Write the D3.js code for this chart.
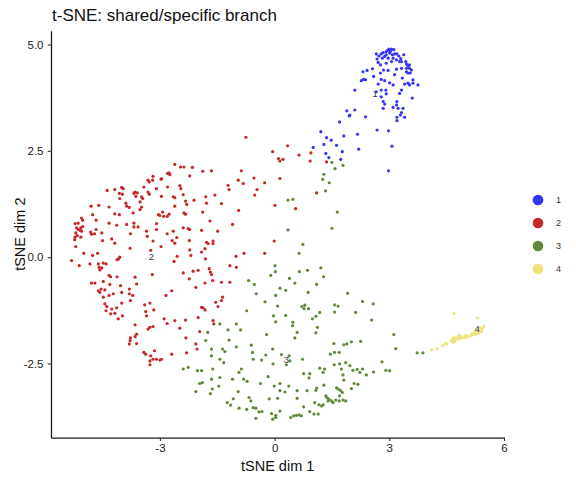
<!DOCTYPE html>
<html>
<head>
<meta charset="utf-8">
<script src="https://cdn.jsdelivr.net/npm/d3@7"></script>
<style>
  body { margin: 0; background: #fff; }
  svg text { font-family: "Liberation Sans", Arial, Helvetica, sans-serif; }
</style>
</head>
<body>
<div id="chart"></div>
<script>
// cluster names + colours (legend order)
let clusterNames = ["1", "2", "3", "4"];
let clusterColors = ["#3535F6", "#C52828", "#5F8A3C", "#EEE27A"];

// t-SNE coordinates, one array per cluster
let cluster1 = [[2.66,4.78],[2.73,4.73],[2.79,4.78],[2.84,4.81],[2.92,4.83],[2.99,4.89],[3.06,4.89],[3.12,4.88],[3.01,4.80],[2.92,4.76],[3.08,4.76],[3.14,4.78],[3.20,4.78],[3.25,4.73],[3.38,4.76],[2.68,4.66],[2.82,4.68],[2.97,4.68],[3.10,4.68],[3.19,4.64],[3.27,4.60],[3.32,4.60],[2.71,4.58],[2.77,4.52],[2.92,4.56],[3.06,4.60],[3.43,4.60],[3.45,4.54],[3.49,4.50],[3.53,4.52],[3.45,4.44],[3.53,4.44],[3.58,4.40],[3.45,4.36],[3.49,4.33],[3.55,4.33],[2.56,4.43],[2.42,4.39],[2.31,4.36],[2.85,4.40],[2.97,4.39],[3.19,4.42],[3.32,4.44],[2.77,4.33],[3.14,4.29],[2.59,4.25],[2.33,4.18],[2.27,4.15],[2.38,4.17],[2.79,4.18],[2.88,4.15],[3.01,4.10],[2.71,4.07],[3.10,4.05],[3.34,4.21],[3.40,4.07],[3.49,4.09],[3.62,4.09],[3.75,4.05],[3.62,4.17],[3.53,4.05],[2.10,3.93],[2.66,3.89],[2.79,3.93],[2.91,3.93],[2.92,3.84],[2.79,3.77],[3.32,3.93],[3.27,3.85],[2.84,3.66],[2.88,3.60],[3.20,3.66],[3.19,3.58],[3.60,3.74],[2.84,3.50],[3.10,3.52],[3.23,3.50],[3.36,3.50],[1.89,3.44],[2.10,3.46],[1.97,3.34],[3.32,3.40],[3.29,3.34],[1.95,3.32],[2.38,3.30],[3.40,3.29],[3.20,3.29],[1.70,3.18],[3.20,3.21],[1.21,2.95],[1.81,2.85],[2.17,2.89],[2.68,2.99],[2.98,2.97],[1.36,2.81],[1.48,2.75],[1.29,2.65],[1.62,2.63],[1.01,2.58],[2.20,2.54],[3.07,2.61],[1.77,2.48],[1.34,2.44],[1.42,2.34],[1.73,2.30],[2.98,2.03],[2.95,4.86],[3.03,4.84],[2.88,4.72],[3.30,4.67]];

let cluster2 = [[0.34,2.62],[-0.05,2.48],[0.10,2.32],[0.14,2.26],[0.22,2.30],[0.64,2.40],[-2.61,2.18],[-2.46,2.12],[-2.37,2.12],[-2.15,2.11],[-1.88,2.02],[-1.65,2.03],[-2.76,1.98],[-2.74,1.94],[-2.22,1.91],[-0.87,2.03],[-0.54,1.86],[-0.95,1.81],[-0.82,1.73],[-0.26,1.75],[0.14,1.85],[-2.48,1.68],[-2.45,1.61],[-2.65,1.42],[-2.61,1.40],[-2.39,1.47],[-2.33,1.32],[-2.30,1.24],[-2.11,1.34],[-1.80,1.42],[-1.78,1.27],[-1.56,1.46],[-1.39,1.26],[-1.22,1.69],[-1.19,1.59],[-0.46,1.59],[-0.52,1.46],[0.01,1.22],[0.55,1.14],[-2.61,1.20],[-2.37,1.04],[-2.33,1.01],[-1.88,1.06],[-1.69,0.85],[-1.49,0.61],[-1.10,0.77],[-0.94,1.10],[-2.65,0.61],[-2.68,0.39],[-2.56,0.46],[-2.61,0.33],[-2.39,0.69],[-2.26,0.67],[-2.22,0.65],[-2.23,0.39],[-1.91,0.63],[-1.78,0.35],[-1.74,0.32],[-1.61,0.38],[-1.61,0.32],[-0.80,0.09],[-1.01,0.02],[-0.26,0.09],[-0.01,0.38],[-2.55,0.02],[-2.19,0.04],[-2.22,0.17],[-1.91,0.12],[-1.82,0.20],[-1.81,-0.04],
  [-5.22,0.79],[-5.14,0.80],[-5.05,0.92],[-5.02,0.87],[-5.18,0.69],[-5.14,0.65],[-5.07,0.69],[-5.02,0.72],[-5.09,0.63],[-5.05,0.61],[-5.20,0.57],[-5.16,0.51],[-5.22,0.47],[-5.23,0.41],[-5.07,0.47],[-5.20,0.25],[-4.81,0.59],[-4.79,0.54],[-4.71,0.55],[-4.67,0.65],[-4.52,0.57],[-4.76,1.00],[-4.67,0.87],[-4.80,1.20],[-4.60,1.22],[-4.33,1.18],[-4.38,1.57],[-4.18,1.59],[-4.00,1.64],[-3.96,1.61],[-3.98,1.48],[-4.06,1.50],[-4.05,1.38],[-3.89,1.27],[-3.87,1.20],[-3.80,1.17],[-3.70,1.04],[-4.18,1.02],[-4.06,1.00],[-4.33,0.80],[-4.13,0.75],[-3.87,0.77],[-3.68,0.80],[-3.68,0.71],[-3.57,0.71],[-3.77,0.55],[-3.65,1.53],[-3.68,1.50],[-3.59,1.51],[-3.63,1.43],[-3.48,1.42],[-3.45,1.38],[-3.52,1.30],[-3.48,1.18],[-3.52,1.12],[-3.42,1.65],[-3.31,1.81],[-3.28,1.77],[-3.18,1.90],[-3.19,1.81],[-2.97,1.83],[-2.96,1.85],[-2.80,1.97],[-2.80,1.65],[-3.09,1.61],[-3.31,1.53],[-3.28,1.48],[-2.96,1.43],[-3.04,1.00],[-2.93,1.06],[-2.90,0.96],[-3.00,0.98],[-2.81,0.96],[-2.76,1.01],[-3.09,0.79],[-3.09,0.65],[-3.35,0.61],[-3.33,0.49],[-3.18,0.38],[-3.78,0.21],[-3.24,0.16],[-2.97,0.25],[-2.81,0.55],[-4.26,0.43],[-4.18,0.33],[-4.50,0.39],[-4.99,0.09],[-4.76,0.04],[-4.63,0.09],[-5.31,-0.08],[-4.08,-0.04],[-4.05,0.00],[-4.12,-0.06],
  [-5.11,-0.20],[-4.83,-0.16],[-4.61,-0.16],[-4.59,-0.24],[-4.52,-0.25],[-4.57,-0.30],[-4.48,-0.14],[-4.41,-0.16],[-4.33,-0.43],[-4.29,-0.46],[-4.12,-0.46],[-4.79,-0.61],[-4.70,-0.61],[-4.48,-0.57],[-4.31,-0.64],[-4.03,-0.67],[-3.65,-0.47],[-3.61,-0.63],[-3.80,-0.75],[-4.61,-0.79],[-4.54,-0.75],[-4.57,-0.83],[-4.44,-0.77],[-4.33,-0.90],[-4.48,-0.94],[-4.22,-0.86],[-4.00,-0.83],[-3.80,-0.86],[-3.71,-0.90],[-4.44,-1.10],[-4.39,-1.16],[-4.41,-1.26],[-4.26,-1.22],[-4.29,-1.33],[-4.13,-1.19],[-4.18,-1.32],[-4.09,-1.45],[-3.98,-1.38],[-4.00,-1.08],[-3.77,-1.02],[-3.40,-1.12],[-3.26,-1.08],[-3.16,-1.24],[-3.37,-1.28],[-3.35,-1.38],[-3.65,-1.59],[-3.61,-1.81],[-3.65,-1.87],[-3.77,-1.90],[-3.78,-1.96],[-3.80,-2.04],[-3.61,-2.03],[-3.31,-1.69],[-3.26,-1.65],[-3.18,-1.63],[-3.20,-0.41],[-3.42,-2.24],[-3.37,-2.28],[-3.24,-2.32],[-3.18,-2.40],[-3.14,-2.20],[-3.26,-2.44],[-3.26,-2.53],[-3.09,-2.40],[-3.00,-2.42],[-2.96,-2.40],[-2.69,-2.28],[-2.84,-0.90],[-2.69,-0.79],[-2.89,-1.45],[-2.81,-1.56],[-2.61,-1.49],[-2.48,-1.67],[-2.33,-1.48],[-2.32,-1.90],[-2.06,-2.04],[-2.03,-2.16],[-1.96,-1.75],[-2.39,-0.37],[-2.23,-0.51],[-2.13,-0.33],[-2.00,-0.31],[-1.82,-0.61],[-2.06,-0.71],[-1.71,-0.27],[-1.68,-0.35],[-1.65,-0.41],[-1.62,-0.55],[-1.39,-0.59],[-1.17,-0.59],[-1.17,-0.20],[-1.00,-0.24],[-1.36,-0.94],[-1.39,-1.02],[-1.54,-1.06],[-1.48,-1.16],[-1.91,-1.18],[-1.87,-1.19],[-1.82,-1.24],[-1.61,-1.49],[-1.59,-1.57],[-2.00,-1.42],[-2.63,-0.10],[-2.30,-2.25],
  [0.95,2.45],[0.93,2.26],[1.36,2.24],[1.10,1.51],[-0.75,2.82]];

let cluster3 = [[1.50,2.23],[1.79,2.16],[1.58,2.08],[1.29,1.95],[1.26,1.83],[1.43,1.75],[1.33,1.56],[0.35,1.34],[0.48,1.36],[1.64,1.06],[0.35,0.64],[1.50,0.68],[0.74,0.30],[0.64,0.09],[0.01,-0.20],[0.02,-0.34],[-0.10,-0.43],[0.65,-0.34],[0.86,-0.31],[1.21,-0.25],[1.28,-0.46],[-0.68,-0.55],[-0.53,-0.64],[0.39,-0.50],[0.53,-0.61],[0.14,-0.73],[0.29,-0.78],[1.10,-0.64],[-0.48,-0.86],[0.03,-0.90],[0.88,-0.83],[1.91,-0.85],[-0.25,-1.05],[0.08,-1.15],[0.71,-1.16],[0.79,-1.13],[0.89,-1.21],[0.77,-1.21],[1.18,-1.30],[1.57,-1.12],[1.66,-1.15],[1.57,-1.29],[2.30,-1.04],[2.58,-1.10],[2.12,-1.30],[-0.73,-1.26],[-0.03,-1.38],[0.29,-1.37],[1.08,-1.39],[0.99,-1.45],[2.54,-1.48],
  [0.03,-1.52],[0.48,-1.53],[-1.43,-1.57],[-1.00,-1.57],[-1.75,-1.77],[-1.22,-1.71],[-0.89,-1.71],[-0.21,-1.82],[0.47,-1.61],[0.59,-1.77],[0.53,-1.90],[-1.80,-1.96],[-1.19,-1.95],[-1.00,-2.11],[-0.61,-2.07],[-1.65,-2.16],[-1.36,-2.16],[-1.30,-2.22],[-1.65,-2.32],[-1.43,-2.40],[-1.33,-2.48],[-0.58,-2.24],[-0.56,-2.40],[-0.34,-2.42],[-0.23,-2.30],[-0.05,-2.16],[-0.04,-2.51],[0.38,-2.32],[0.40,-2.44],[0.31,-2.53],[-2.39,-2.63],[-2.26,-2.59],[-1.62,-2.63],[-0.87,-2.63],
  [1.12,-1.65],[1.08,-1.78],[1.55,-2.03],[1.81,-2.06],[1.89,-2.04],[2.01,-1.99],[2.25,-1.98],[3.12,-1.82],[3.17,-2.15],[3.73,-2.25],[3.88,-2.25],[-1.91,-2.67],[-2.02,-2.67],[-1.65,-2.87],[-1.43,-2.83],[-1.10,-2.87],[-0.93,-2.71],[-0.81,-2.87],[-0.72,-2.92],[0.18,-2.29],[0.73,-2.40],[0.76,-2.74],[0.92,-2.74],[0.90,-2.84],[1.18,-2.61],[1.31,-2.63],[1.27,-2.71],[1.46,-2.28],[1.57,-2.24],[1.69,-2.24],[1.56,-2.53],[1.70,-2.51],[1.75,-2.63],[1.79,-2.77],[1.81,-2.89],[1.86,-2.48],[1.97,-2.55],[2.05,-2.66],[2.16,-2.64],[2.23,-2.71],[2.30,-2.63],[2.40,-2.77],[2.59,-2.70],[2.81,-2.46],[2.91,-2.66],[3.01,-2.67],[-1.96,-2.97],[-1.89,-2.95],[-2.06,-3.16],[-1.63,-3.10],[-1.68,-3.21],[-1.46,-3.03],[-0.95,-3.16],[-0.37,-2.97],[-0.17,-2.81],[-0.01,-3.03],[0.14,-2.97],[0.37,-3.03],[0.27,-3.17],[0.59,-3.14],[0.85,-3.14],[1.08,-3.13],[1.10,-3.08],[1.29,-3.01],[1.62,-3.07],[1.66,-3.10],[1.72,-3.13],[1.77,-3.18],[1.70,-3.26],[1.79,-3.36],[1.60,-3.36],[2.08,-2.97],[2.18,-2.99],[2.01,-3.09],[-1.24,-3.42],[-1.15,-3.48],[-1.08,-3.33],[-0.93,-3.55],[-0.73,-3.58],[-0.67,-3.30],[-0.62,-3.38],[-0.56,-3.54],[-0.49,-3.55],[-0.49,-3.79],[-0.41,-3.64],[-0.33,-3.63],[-0.14,-3.33],[-0.08,-3.68],[-0.05,-3.81],[0.03,-3.77],[0.03,-3.72],[0.08,-3.32],[0.14,-3.14],[0.14,-3.62],[0.42,-3.77],[0.50,-3.73],[0.57,-3.72],[0.64,-3.71],[0.70,-3.73],[0.59,-3.32],[0.76,-3.52],[0.92,-3.63],[1.03,-3.69],[1.14,-3.69],[1.05,-3.42],[1.16,-3.47],[1.23,-3.50],[1.27,-3.47],[1.34,-3.26],[1.37,-3.30],[1.42,-3.34],[1.40,-3.38],[1.49,-3.38],[1.53,-3.42],[1.69,-3.38],[1.86,-3.38]];

let cluster4 = [[4.69,-1.32],[5.30,-1.43],[5.47,-1.63],[5.43,-1.69],[5.41,-1.75],[5.36,-1.77],[5.32,-1.79],[5.26,-1.81],[5.19,-1.82],[5.13,-1.85],[5.06,-1.87],[4.97,-1.89],[4.91,-1.90],[4.84,-1.92],[4.82,-1.84],[4.75,-1.93],[4.68,-1.95],[4.67,-1.90],[4.67,-2.00],[4.51,-2.04],[4.47,-2.03],[4.25,-2.15],[5.32,-1.71],[5.38,-1.67],[5.23,-1.77],[5.15,-1.81],[5.00,-1.84],[4.89,-1.87],[4.80,-1.89],[4.74,-1.90],[4.62,-1.96],[4.71,-1.98],[4.40,-2.08],[4.11,-2.18]];

// cluster label positions (text drawn at these coords)
let labelX = [2.63, -3.22, 0.31, 5.30];
let labelY = [3.85, 0.02, -2.40, -1.67];

let xTicks = [-3, 0, 3, 6];
let yTicks = [-2.5, 0, 2.5, 5];

let width = 576;
let height = 480;
let panel = {left: 51, right: 504.3, top: 30.7, bottom: 437.7};

let clusters = [cluster1, cluster2, cluster3, cluster4];

// ggplot style 5% expansion of the data range
let allPts = d3.merge(clusters);
function expand(ext) {
  let pad = (ext[1] - ext[0]) * 0.05;
  return [ext[0] - pad, ext[1] + pad];
}
let x = d3.scaleLinear()
  .domain(expand(d3.extent(allPts, d => d[0])))
  .range([panel.left, panel.right]);
let y = d3.scaleLinear()
  .domain(expand(d3.extent(allPts, d => d[1])))
  .range([panel.bottom, panel.top]);

let svg = d3.select("#chart").append("svg")
  .attr("width", width)
  .attr("height", height);

// points, one group per cluster
clusters.forEach(function(pts, i) {
  svg.append("g")
    .attr("class", "cluster")
    .selectAll("circle")
    .data(pts)
    .enter()
    .append("circle")
    .attr("cx", d => x(d[0]))
    .attr("cy", d => y(d[1]))
    .attr("r", 1.6)
    .style("fill", clusterColors[i]);
});

// cluster number labels
svg.append("g")
  .selectAll("text")
  .data(clusterNames)
  .enter()
  .append("text")
  .attr("x", (d, i) => x(labelX[i]))
  .attr("y", (d, i) => y(labelY[i]))
  .attr("dy", "0.35em")
  .attr("text-anchor", "middle")
  .style("font-size", "9.5px")
  .style("fill", "#3a3a3a")
  .text(d => d);

// axes
let xAxis = svg.append("g")
  .attr("transform", "translate(0," + panel.bottom + ")")
  .call(d3.axisBottom(x).tickValues(xTicks).tickSize(3.3).tickSizeOuter(0).tickPadding(3.3)
    .tickFormat(d => String(d)));
let yAxis = svg.append("g")
  .attr("transform", "translate(" + panel.left + ",0)")
  .call(d3.axisLeft(y).tickValues(yTicks).tickSize(3.3).tickSizeOuter(0).tickPadding(4.2)
    .tickFormat(d => d.toFixed(1)));

[xAxis, yAxis].forEach(function(ax) {
  ax.select(".domain").style("stroke", "#1a1a1a").style("stroke-width", 1.3);
  ax.selectAll(".tick line").style("stroke", "#333").style("stroke-width", 1.1);
  ax.selectAll(".tick text")
    .style("font-size", "11.5px")
    .style("fill", "#1a1a1a")
    .style("font-family", "'Liberation Sans', Arial, Helvetica, sans-serif");
});

// titles
svg.append("text")
  .attr("x", 52)
  .attr("y", 21)
  .style("font-size", "17px")
  .style("fill", "#111")
  .text("t-SNE: shared/specific branch");

svg.append("text")
  .attr("x", (panel.left + panel.right) / 2)
  .attr("y", 471)
  .attr("text-anchor", "middle")
  .style("font-size", "14.5px")
  .style("fill", "#111")
  .text("tSNE dim 1");

svg.append("text")
  .attr("transform", "translate(25," + ((panel.top + panel.bottom) / 2) + ") rotate(-90)")
  .attr("text-anchor", "middle")
  .style("font-size", "14.5px")
  .style("fill", "#111")
  .text("tSNE dim 2");

// legend
let legend = svg.append("g")
  .attr("class", "legend")
  .attr("transform", "translate(538,200)")
  .selectAll("g")
  .data(clusterNames)
  .enter()
  .append("g")
  .attr("transform", (d, i) => "translate(0," + (i * 23) + ")");
legend.append("circle")
  .attr("r", 5.3)
  .style("fill", (d, i) => clusterColors[i]);
legend.append("text")
  .attr("x", 18)
  .attr("dy", "0.35em")
  .style("font-size", "9px")
  .style("fill", "#333")
  .text(d => d);
</script>
</body>
</html>
